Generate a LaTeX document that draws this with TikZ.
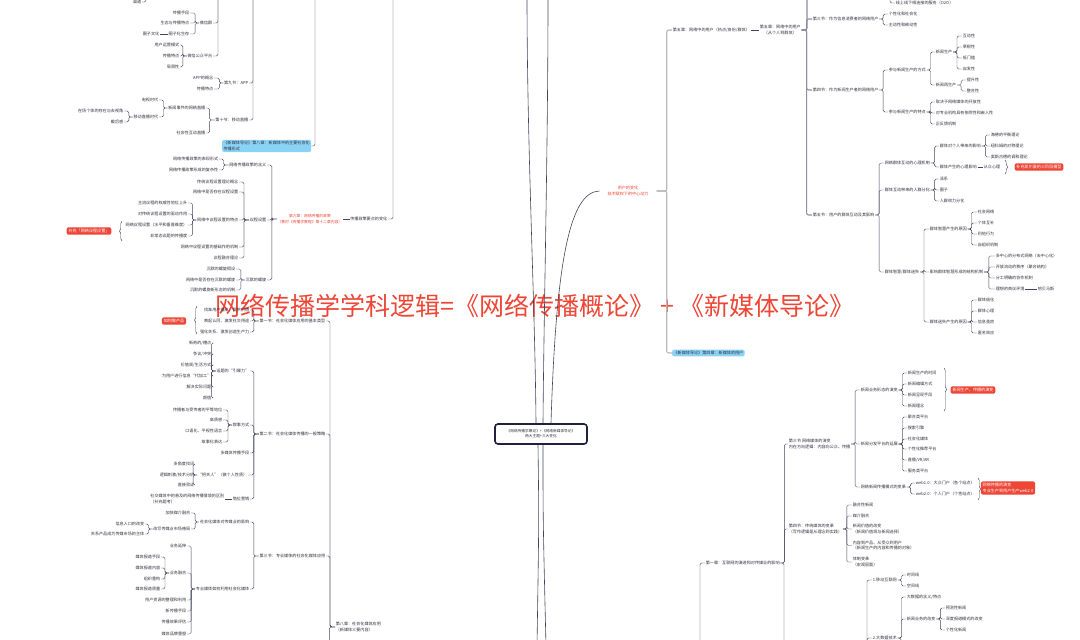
\documentclass[tikz,border=0pt]{standalone}
\usepackage{fontspec}
\setmainfont{Noto Sans CJK SC}
\usetikzlibrary{decorations.pathreplacing}

\definecolor{lnk}{HTML}{45455F}
\definecolor{ink}{HTML}{30303F}
\definecolor{hot}{HTML}{EE4636}
\definecolor{sky}{HTML}{8BD3F5}
\definecolor{navy}{HTML}{202040}

\begin{document}
\begin{tikzpicture}[x=1pt,y=-1pt,font=\fontsize{4.1}{5.6}\selectfont,
  lf/.style={text=ink,inner sep=0.6pt,anchor=east},
  rg/.style={text=ink,inner sep=0.6pt,anchor=west},
  lk/.style={draw=lnk,line width=0.45pt,rounded corners=1.5pt},
  mk/.style={draw=gray!55,line width=1.1pt,rounded corners=2pt},
  ml/.style={draw=lnk,line width=0.6pt},
  hotbox/.style={fill=hot,text=white,rounded corners=2pt,inner sep=1.8pt},
  skybox/.style={fill=sky,text=ink,rounded corners=2pt,inner sep=1.4pt,align=left,anchor=west},
  hottext/.style={text=hot,align=center,inner sep=0.6pt},
  brc/.style={draw=lnk,line width=0.45pt,decorate,decoration={brace,amplitude=2.5pt}}]
  \fill[white] (0,0) rectangle (1080,640);
  \useasboundingbox (0,0) rectangle (1080,640);

  % ---- left top: social media forms
  \node[lf] (qd) at (142,2) {渠道};
  \coordinate (qdup) at (146,-6);
  \draw[lk] (qd.east) -| (qdup);
  \coordinate (wxup) at (218,-6);
  \node[lf] (wq) at (213,23) {微信群};
  \node[lf] (gz) at (213,56) {微信公众平台};
  \foreach \c in {wq,gz} \draw[lk] (wxup) |- (\c.east);
  \foreach \n/\yy/\lbl in {wq1/13/传播手段,wq2/23/生态与传播特点,wq3/34/圈子化生存}
    \node[lf] (\n) at (190,\yy) {\lbl};
  \node[lf] (wq4) at (160,34) {圈子文化};
  \foreach \c in {wq1,wq2,wq3} \draw[lk] (wq.west) -- ++(-4,0) |- (\c.east);
  \draw[lk] (wq3.west) -- (wq4.east);
  \foreach \n/\yy/\lbl in {gz1/45/用户运营模式,gz2/56/传播特点,gz3/67/局限性}
    \node[lf] (\n) at (180,\yy) {\lbl};
  \foreach \c in {gz1,gz2,gz3} \draw[lk] (gz.west) -- ++(-4,0) |- (\c.east);

  \coordinate (s9up) at (253,-6);
  \node[lf] (app) at (249,83) {第九节：APP};
  \node[lf] (live) at (249,120) {第十节：移动直播};
  \foreach \c in {app,live} \draw[lk] (s9up) |- (\c.east);
  \node[lf] (ap1) at (214,78) {APP的概念};
  \node[lf] (ap2) at (214,89) {传播特点};
  \foreach \c in {ap1,ap2} \draw[lk] (app.west) -- ++(-4,0) |- (\c.east);
  \node[lf] (lv1) at (206,108) {新闻事件的网络直播};
  \node[lf] (lv2) at (206,133) {社会性互动直播};
  \foreach \c in {lv1,lv2} \draw[lk] (live.west) -- ++(-5,0) |- (\c.east);
  \node[lf] (lv3) at (159,100) {电视时代};
  \node[lf] (lv4) at (159,117) {移动直播时代};
  \foreach \c in {lv3,lv4} \draw[lk] (lv1.west) -- ++(-4,0) |- (\c.east);
  \node[lf] (lv5) at (124,111) {在场个体的存在与去视角};
  \node[lf] (lv6) at (124,122) {截后感};
  \foreach \c in {lv5,lv6} \draw[lk] (lv4.west) -- ++(-4,0) |- (\c.east);

  \node[skybox] (b8) at (222,146) {《新媒体导论》第八章：新媒体中的主要社会化\\传播形式};
  \coordinate (b8up) at (315,-6);
  \draw[lk] (b8.east) -| (b8up);

  % ---- left middle: policy
  \coordinate (zcup) at (393,-6);
  \node[lf] (zc) at (388,219) {传播政策要点的变化};
  \draw[lk] (zc.east) -| (zcup);
  \node[hottext,anchor=east,font=\fontsize{3.8}{5.4}\selectfont] (r9) at (343,219) {第九章：网络传播的政策\\（教材《传播学教程》第十二章内容）};
  \draw[lk] (zc.west) -- (r9.east);
  \node[lf] (p1) at (267,165) {网络传播政策的含义};
  \node[lf] (p2) at (267,220) {议程设置};
  \node[lf] (p3) at (267,280) {沉默的螺旋};
  \foreach \c in {p1,p2,p3} \draw[lk] (r9.west) -- ++(-5,0) |- (\c.east);
  \node[lf] (p11) at (219,159) {网络传播政策的表现形式};
  \node[lf] (p12) at (219,170) {网络传播政策形成的复杂性};
  \foreach \c in {p11,p12} \draw[lk] (p1.west) -- ++(-5,0) |- (\c.east);
  \foreach \n/\yy/\lbl in {p21/182/传统议程设置理论概念,p22/192/网络中是否存在议程设置,p23/220/网络中议程设置的特点,p24/247/网络中议程设置的基础作用机制,p25/258/议程融合理论}
    \node[lf] (\n) at (239,\yy) {\lbl};
  \foreach \c in {p21,p22,p23,p24,p25} \draw[lk] (p2.west) -- ++(-5,0) |- (\c.east);
  \foreach \n/\yy/\lbl in {q1/203/主流议程的权威性地位上升,q2/214/对传统议程设置的驱动作用,q3/225/网络议程设置（水平和垂直维度）,q4/236/非常态议题的传播度}
    \node[lf] (\n) at (188,\yy) {\lbl};
  \foreach \c in {q1,q2,q3,q4} \draw[lk] (p23.west) -- ++(-4,0) |- (\c.east);
  \node[hotbox] (rq) at (89,231) {补充「网络议程设置」};
  \coordinate (rqa) at (122,241);
  \coordinate (rqb) at (122,221);
  \draw[brc] (rqa) -- (rqb);
  \foreach \n/\yy/\lbl in {p31/269/沉默的螺旋假设,p32/280/网络中是否存在沉默的螺旋,p33/290/沉默的螺旋新形态的机制}
    \node[lf] (\n) at (236,\yy) {\lbl};
  \foreach \c in {p31,p32,p33} \draw[lk] (p3.west) -- ++(-4,0) |- (\c.east);

  % ---- title
  \node[text=hot,font=\fontsize{25}{26}\selectfont,inner sep=0] (ttl) at (535,306) {网络传播学学科逻辑=《网络传播概论》 + 《新媒体导论》};

  % ---- left bottom: social media use
  \node[rg,align=left] (c8) at (335,627) {第八章：社会化媒体应用\\（新媒体三要内容）};
  \coordinate (c8dn) at (329.4,646);
  \node[lf] (s1) at (326,321) {第一节：社会化媒体应用的基本类型};
  \node[lf] (s2) at (326,434) {第二节：社会化媒体传播的一般策略};
  \node[lf] (s3) at (326,556) {第三节：专业媒体的社会化媒体应用};
  \foreach \c in {s1,s2,s3} \draw[lk] (c8.west) -- ++(-5,0) |- (\c.east);
  \draw[lk] (c8.west) -| (c8dn);
  \foreach \n/\yy/\lbl in {s11/310/找准用户痛点、提供价值,s12/321/唤起认同、激发社交用途,s13/332/强化关系、激发创造生产力}
    \node[lf] (\n) at (250,\yy) {\lbl};
  \foreach \c in {s11,s12,s13} \draw[lk] (s1.west) -- ++(-5,0) |- (\c.east);
  \node[hotbox] (rp) at (174,321) {如何做产品};
  \coordinate (rpa) at (197,334);
  \coordinate (rpb) at (197,306);
  \draw[brc] (rpa) -- (rpb);

  \node[lf] (s21) at (250,371) {话题的“引爆力”};
  \node[lf] (s22) at (250,425) {叙事方式};
  \node[lf] (s23) at (250,453) {多媒体传播手段};
  \node[lf] (s24) at (248,475) {“把关人”（做个人性质）};
  \node[lf] (s25) at (250,499) {借位营销};
  \foreach \c in {s21,s22,s23,s24,s25} \draw[lk] (s2.west) -- ++(-5,0) |- (\c.east);
  \node[lf] (t1) at (212,343) {新奇的/槽点};
  \node[lf] (t2) at (212,354) {争议/冲突};
  \node[lf] (t3) at (212,365) {价值观/生活方式};
  \node[lf] (t4) at (212,376) {为用户进行信息“代加工”};
  \node[lf] (t5) at (212,387) {解决实际问题};
  \node[lf] (t6) at (212,398) {颜值};
  \foreach \c in {t1,t2,t3,t4,t5,t6} \draw[lk] (s21.west) -- ++(-4,0) |- (\c.east);
  \foreach \n/\yy/\lbl in {v1/410/传播者与受传者的平等地位,v2/420/高质感,v3/431/口语化、平视性语言,v4/442/故事化表达}
    \node[lf] (\n) at (223,\yy) {\lbl};
  \foreach \c in {v1,v2,v3,v4} \draw[lk] (s22.west) -- ++(-4,0) |- (\c.east);
  \node[lf] (g1) at (195,464) {多角度找词};
  \node[lf] (g2) at (195,475) {逻辑刺激/技术分析};
  \node[lf] (g3) at (195,485) {直接验证};
  \foreach \c in {g1,g2,g3} \draw[lk] (s24.west) -- ++(-4,0) |- (\c.east);
  \node[lf,align=left] (s251) at (225,499) {社交媒体中的普及的网络传播情境的区别\\（补充题考）};
  \draw[lk] (s25.west) -- (s251.east);

  \node[lf] (s31) at (250,522) {社会化媒体对传媒业的影响};
  \node[lf] (s32) at (250,589) {专业媒体如何利用社会化媒体};
  \foreach \c in {s31,s32} \draw[lk] (s3.west) -- ++(-5,0) |- (\c.east);
  \node[lf] (s311) at (191,513) {加快媒介融合};
  \node[lf] (s312) at (191,529) {改写传媒业市场格局};
  \foreach \c in {s311,s312} \draw[lk] (s31.west) -- ++(-4,0) |- (\c.east);
  \node[lf] (s313) at (145,524) {信息入口的改变};
  \node[lf] (s314) at (145,534) {关系产品成为传媒市场的主体};
  \foreach \c in {s313,s314} \draw[lk] (s312.west) -- ++(-4,0) |- (\c.east);
  \foreach \n/\yy/\lbl in {y1/546/业务延伸,y2/573/业务融合,y3/600/用户资源的整理和利用,y4/611/新传播手段,y5/622/传播效果评估,y6/634/媒体品牌重塑}
    \node[lf] (\n) at (187,\yy) {\lbl};
  \foreach \c in {y1,y2,y3,y4,y5,y6} \draw[lk] (s32.west) -- ++(-4,0) |- (\c.east);
  \foreach \n/\yy/\lbl in {y21/557/媒体报道手段,y22/568/媒体报道内容,y23/579/组织重构,y24/589/媒体报道质量}
    \node[lf] (\n) at (161,\yy) {\lbl};
  \foreach \c in {y21,y22,y23,y24} \draw[lk] (y2.west) -- ++(-4,0) |- (\c.east);

  % ---- centre
  \node[draw=navy,line width=1.6pt,rounded corners=3pt,minimum width=92pt,minimum height=20pt,align=center,text=ink,font=\fontsize{3.7}{5}\selectfont] (ctr) at (541,434) {《网络传播学概论》+《网络新媒体导论》\\两大主题+三大变化};
  \coordinate (upa) at (527,-6);
  \coordinate (upb) at (548,-6);
  \coordinate (dna) at (537,646);
  \coordinate (dnb) at (546,646);
  \node[hottext,inner xsep=8pt] (usr) at (628,191) {用户的变化\\技术赋权下的中心动力};
  \draw[ml] ([xshift=-5pt]ctr.north) .. controls (535,300) and (527,150) .. (upa);
  \draw[ml] ([xshift=2pt]ctr.north) .. controls (544,300) and (548,150) .. (upb);
  \draw[ml] ([xshift=10pt]ctr.north) .. controls (556,260) and (570,192) .. (usr.west);
  \draw[ml] ([xshift=-3pt]ctr.south) .. controls (539,520) .. (dna);
  \draw[ml] ([xshift=2pt]ctr.south) .. controls (543,520) .. (dnb);

  % ---- right top: users
  \node[rg] (c5) at (672,30) {第五章：网络中的用户（热点/身份/群体）};
  \node[skybox] (b4) at (672,353) {《新媒体导论》第四章：新媒体的用户};
  \foreach \c in {c5,b4} \draw[mk] (usr.east) -- ++(10,0) |- (\c.west);
  \node[rg,align=center] (c5b) at (759,30) {第五章：网络中的用户\\（从个人到群体）};
  \draw[lk] (c5.east) -- (c5b.west);
  \coordinate (c5up) at (807,-6);
  \draw[mk,draw=lnk!60] (c5b.east) -| (c5up);
  \node[rg] (u3) at (812,19) {第三节：作为信息消费者的网络用户};
  \node[rg] (u4) at (812,90) {第四节：作为新闻生产者的网络用户};
  \node[rg] (u5) at (812,215) {第五节：用户的群体互动及其影响};
  \foreach \c in {u3,u4,u5} \draw[mk,draw=lnk!60] (c5b.east) -- ++(5,0) |- (\c.west);
  \node[rg] (u31) at (888,14) {个性化和社会化};
  \node[rg] (u32) at (888,25) {主动性和被动性};
  \foreach \c in {u31,u32} \draw[lk] (u3.east) -- ++(4,0) |- (\c.west);
  \coordinate (o2up) at (890,-6);
  \node[rg] (u30) at (895,3) {线上线下相连接的服务（O2O）};
  \draw[lk] (o2up) |- (u30.west);
  \node[rg] (u41) at (888,70) {参与新闻生产的方式};
  \node[rg] (u42) at (888,112) {参与新闻生产的特点};
  \foreach \c in {u41,u42} \draw[lk] (u4.east) -- ++(4,0) |- (\c.west);
  \node[rg] (u411) at (935,52) {新闻生产};
  \node[rg] (u412) at (935,85) {新闻再生产};
  \foreach \c in {u411,u412} \draw[lk] (u41.east) -- ++(4,0) |- (\c.west);
  \foreach \n/\yy/\lbl in {n1/36/互动性,n2/47/草根性,n3/58/低门槛,n4/69/自发性}
    \node[rg] (\n) at (962,\yy) {\lbl};
  \foreach \c in {n1,n2,n3,n4} \draw[lk] (u411.east) -- ++(4,0) |- (\c.west);
  \node[rg] (n5) at (966,80) {提升性};
  \node[rg] (n6) at (966,91) {整合性};
  \foreach \c in {n5,n6} \draw[lk] (u412.east) -- ++(4,0) |- (\c.west);
  \foreach \n/\yy/\lbl in {f1/102/取决于网络媒体的开放性,f2/113/对专业机构具有依附性和嵌入性,f3/124/正反馈机制}
    \node[rg] (\n) at (935,\yy) {\lbl};
  \foreach \c in {f1,f2,f3} \draw[lk] (u42.east) -- ++(4,0) |- (\c.west);

  \node[rg] (u51) at (884,163) {网络群体互动的心理机制};
  \node[rg] (u52) at (884,190) {群体互动带来的人群分化};
  \node[rg] (u53) at (884,272) {群体智慧/群体迷失};
  \foreach \c in {u51,u52,u53} \draw[lk] (u5.east) -- ++(4,0) |- (\c.west);
  \node[rg] (u511) at (939,146) {群体对个人带来的影响};
  \node[rg] (u512) at (939,167) {群体产生的心理影响};
  \foreach \c in {u511,u512} \draw[lk] (u51.east) -- ++(4,0) |- (\c.west);
  \foreach \n/\yy/\lbl in {h1/135/海德的平衡理论,h2/146/纽科姆的对称理论,h3/157/奥斯古德的调和理论}
    \node[rg] (\n) at (990,\yy) {\lbl};
  \foreach \c in {h1,h2,h3} \draw[lk] (u511.east) -- ++(4,0) |- (\c.west);
  \node[rg] (u513) at (983,167) {从众心理};
  \draw[lk] (u512.east) -- (u513.west);
  \coordinate (rka) at (1005,160);
  \coordinate (rkb) at (1005,174);
  \draw[brc] (rka) -- (rkb);
  \node[hotbox] (rk) at (1039,167) {补充凯尔曼的三阶段模型};
  \foreach \n/\yy/\lbl in {e1/179/派系,e2/190/圈子,e3/201/人群权力分化}
    \node[rg] (\n) at (939,\yy) {\lbl};
  \foreach \c in {e1,e2,e3} \draw[lk] (u52.east) -- ++(4,0) |- (\c.west);
  \node[rg] (u531) at (929,229) {群体智慧产生的原因};
  \node[rg] (u532) at (929,272) {影响群体智慧形成的结构机制};
  \node[rg] (u533) at (929,322) {群体迷失产生的原因};
  \foreach \c in {u531,u532,u533} \draw[lk] (u53.east) -- ++(4,0) |- (\c.west);
  \foreach \n/\yy/\lbl in {i1/212/社会网络,i2/223/个体互补,i3/234/利他行为,i4/245/自组织机制}
    \node[rg] (\n) at (977,\yy) {\lbl};
  \foreach \c in {i1,i2,i3,i4} \draw[lk] (u531.east) -- ++(4,0) |- (\c.west);
  \foreach \n/\yy/\lbl in {j1/256/多中心的分布式网络（去中心化）,j2/267/开放流动的秩序（聚合结构）,j3/278/分工明确的协作机制,j4/289/理想的商议环境}
    \node[rg] (\n) at (995,\yy) {\lbl};
  \foreach \c in {j1,j2,j3,j4} \draw[lk] (u532.east) -- ++(5,0) |- (\c.west);
  \node[rg] (j5) at (1037,289) {哈贝马斯};
  \draw[lk] (j4.east) -- (j5.west);
  \foreach \n/\yy/\lbl in {o1/300/群体极化,o2/311/群体心理,o3/322/信息茧房,o4/333/匿名效应}
    \node[rg] (\n) at (977,\yy) {\lbl};
  \foreach \c in {o1,o2,o3,o4} \draw[lk] (u533.east) -- ++(4,0) |- (\c.west);

  % ---- right bottom: internet & media
  \node[rg] (k1) at (705,563) {第一章：互联网的演进和对传媒业的影响};
  \coordinate (k1dn) at (700,646);
  \draw[lk] (k1.west) -| (k1dn);
  \node[rg,align=left] (k3) at (788,444) {第三节 网络媒体的演变\\内在方向逻辑：内容向公众、传播};
  \node[rg,align=left] (k4) at (788,529) {第四节：传统媒体的变革\\（写作逻辑是从理念到实践）};
  \coordinate (k1dn2) at (784,646);
  \foreach \c in {k3,k4} \draw[lk] (k1.east) -- ++(4,0) |- (\c.west);
  \draw[lk] (k1.east) -| (k1dn2);
  \node[rg] (k31) at (860,390) {新闻业务形态的演变};
  \node[rg] (k32) at (860,444) {新闻分发平台的延展};
  \node[rg] (k33) at (860,487) {网络新闻传播模式的变革};
  \foreach \c in {k31,k32,k33} \draw[lk] (k3.east) -- ++(4,0) |- (\c.west);
  \foreach \n/\yy/\lbl in {a1/373/新闻生产的时间,a2/384/新闻编辑方式,a3/395/新闻呈现手段,a4/406/新闻理念}
    \node[rg] (\n) at (907,\yy) {\lbl};
  \foreach \c in {a1,a2,a3,a4} \draw[lk] (k31.east) -- ++(4,0) |- (\c.west);
  \coordinate (rxa) at (944,368);
  \coordinate (rxb) at (944,411);
  \draw[brc] (rxa) -- (rxb);
  \node[hotbox] (rx) at (973,390) {新闻生产、传播的演变};
  \node[rg] (d1) at (907,417) {聚合类平台};
  \node[rg] (d2) at (907,428) {搜索引擎};
  \node[rg] (d3) at (907,439) {社会化媒体};
  \node[rg] (d4) at (907,449) {个性化推荐平台};
  \node[rg] (d5) at (907,460) {直播/VR/AR};
  \node[rg] (d6) at (907,471) {服务类平台};
  \foreach \c in {d1,d2,d3,d4,d5,d6} \draw[lk] (k32.east) -- ++(4,0) |- (\c.west);
  \node[rg] (w1) at (915,483) {web1.0：大众门户（各个站点）};
  \node[rg] (w2) at (915,494) {web2.0：个人门户（个性站点）};
  \foreach \c in {w1,w2} \draw[lk] (k33.east) -- ++(4,0) |- (\c.west);
  \coordinate (rwa) at (978,478);
  \coordinate (rwb) at (978,500);
  \draw[brc] (rwa) -- (rwb);
  \node[hotbox,align=left] (rw) at (1008,488) {网络传播的演变\\专业生产到用户生产web2.0};
  \node[rg] (k41) at (852,505) {融合性新闻};
  \node[rg] (k42) at (852,516) {媒介融合};
  \node[rg,align=left] (k43) at (852,529) {新闻价值的改变\\（新闻价值观与新闻选择）};
  \node[rg,align=left] (k44) at (852,545.5) {内容到产品、从受众到用户\\（新闻生产的内容和传播的对象）};
  \node[rg,align=left] (k45) at (852,562) {体制变革\\（宏观层面）};
  \foreach \c in {k41,k42,k43,k44,k45} \draw[lk] (k4.east) -- ++(4,0) |- (\c.west);

  \coordinate (m0dn) at (867,646);
  \node[rg] (m1) at (872,580) {1.移动互联网};
  \node[rg] (m2) at (872,638) {2.大数据技术};
  \foreach \c in {m1,m2} \draw[lk] (m0dn) |- (\c.west);
  \node[rg] (m11) at (906,575) {时间线};
  \node[rg] (m12) at (906,586) {空间线};
  \foreach \c in {m11,m12} \draw[lk] (m1.east) -- ++(4,0) |- (\c.west);
  \node[rg] (m21) at (906,597) {大数据的含义/特点};
  \node[rg] (m22) at (906,619) {新闻业务的改变};
  \coordinate (m2dn) at (901,646);
  \foreach \c in {m21,m22} \draw[lk] (m2.east) -- ++(4,0) |- (\c.west);
  \draw[lk] (m2.east) -| (m2dn);
  \foreach \n/\yy/\lbl in {x1/608/预测性新闻,x2/619/深度报道模式的改变,x3/630/个性化新闻}
    \node[rg] (\n) at (945,\yy) {\lbl};
  \foreach \c in {x1,x2,x3} \draw[lk] (m22.east) -- ++(4,0) |- (\c.west);
\end{tikzpicture}
\end{document}
